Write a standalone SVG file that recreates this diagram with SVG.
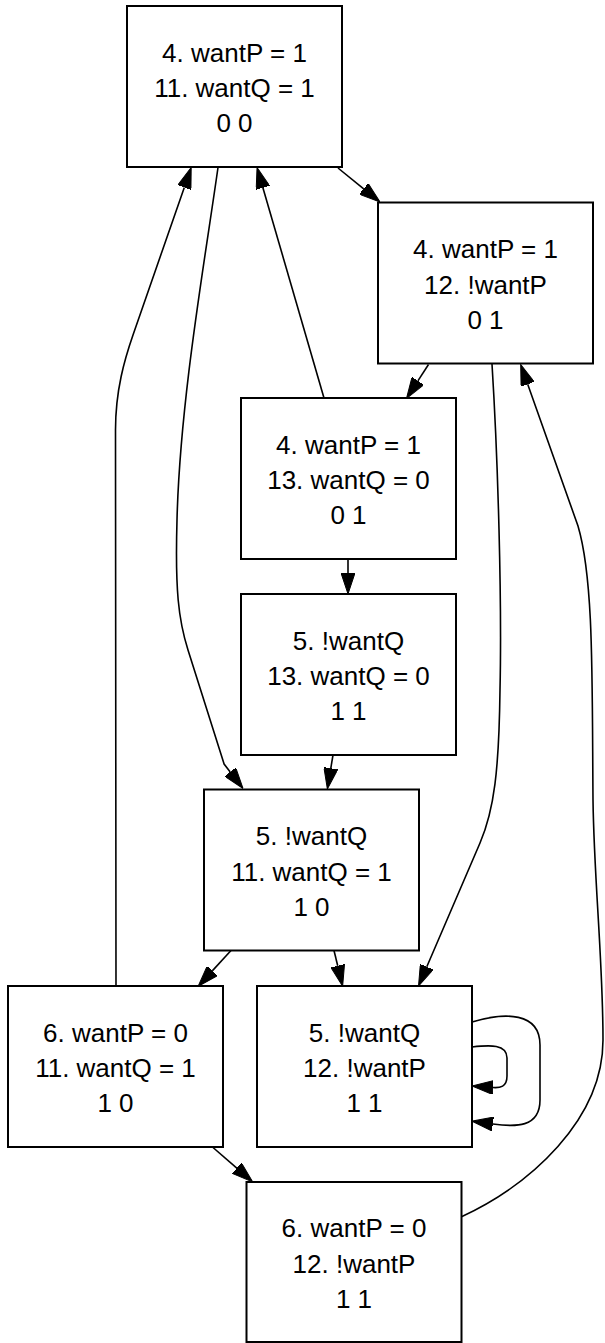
<svg xmlns="http://www.w3.org/2000/svg" width="605" height="1343" viewBox="0 0 605 1343">
<style>
.node rect{fill:#fff;stroke:#000;stroke-width:2}
.node text{font-family:"Liberation Sans",Arial,sans-serif;font-size:26px;text-anchor:middle;fill:#000}
.edge{fill:none;stroke:#000;stroke-width:1.6;marker-end:url(#ah)}
</style>
<defs>
<marker id="ah" viewBox="0 -7 21 14" refX="0" refY="0" markerWidth="21" markerHeight="14" markerUnits="userSpaceOnUse" orient="auto">
<path d="M0,-7 L21,0 L0,7 z" fill="#000" stroke="#000" stroke-width="1"/>
</marker>
</defs>
<rect width="605" height="1343" fill="#fff"/>
<g id="edges">
<path class="edge" d="M338,168 L363.7,188.8"/>
<path class="edge" d="M428.5,364.5 L417.9,380.9"/>
<path class="edge" d="M324,398 L262.9,187.7"/>
<path class="edge" d="M218,167.5 C205,260 180,400 177,520 C175,590 178.5,620 188,650 L224.1,764 L230.2,771.9"/>
<path class="edge" d="M333,755 L330.8,768.3"/>
<path class="edge" d="M348,559 L348,573"/>
<path class="edge" d="M231,950.5 L212.3,970.9"/>
<path class="edge" d="M334,950.5 L337.7,965.8"/>
<path class="edge" d="M492,364 C498,460 502,600 500,690 C499,770 494.2,810 480,843 L426.8,966.8"/>
<path class="edge" d="M116,986 L115.5,430 C115.5,390 124.7,359 133,335 L184.3,187.4"/>
<path class="edge" d="M213,1147.5 L236.8,1168.1"/>
<path class="edge" d="M461,1217 C530,1185 603,1120 603,1040 C603,960 594,880 593,800 C592,680 594,580 578,526 L527.7,384.2"/>
<path class="edge" d="M472,1022 C505,1012 540,1012 540,1045 L540,1100 C540,1128 515,1127 492.8,1124"/>
<path class="edge" d="M472,1047 C490,1045 507,1044 507,1058 L507,1076 C507,1087 500,1088 493,1087.5"/>
</g>
<g id="n1" class="node"><rect x="127" y="6" width="215" height="161"/><text x="234.5" y="61.5">4. wantP = 1</text><text x="234.5" y="97">11. wantQ = 1</text><text x="234.5" y="132">0 0</text></g>
<g id="n2" class="node"><rect x="378" y="202.5" width="215" height="161"/><text x="485.5" y="258">4. wantP = 1</text><text x="485.5" y="293.5">12. !wantP</text><text x="485.5" y="328.5">0 1</text></g>
<g id="n3" class="node"><rect x="241" y="398" width="215" height="161"/><text x="348.5" y="453.5">4. wantP = 1</text><text x="348.5" y="489">13. wantQ = 0</text><text x="348.5" y="524">0 1</text></g>
<g id="n4" class="node"><rect x="241" y="594" width="215" height="161"/><text x="348.5" y="649.5">5. !wantQ</text><text x="348.5" y="685">13. wantQ = 0</text><text x="348.5" y="720">1 1</text></g>
<g id="n5" class="node"><rect x="204" y="789.5" width="215" height="161"/><text x="311.5" y="845">5. !wantQ</text><text x="311.5" y="880.5">11. wantQ = 1</text><text x="311.5" y="915.5">1 0</text></g>
<g id="n6" class="node"><rect x="8" y="986" width="215" height="161"/><text x="115.5" y="1041.5">6. wantP = 0</text><text x="115.5" y="1077">11. wantQ = 1</text><text x="115.5" y="1112">1 0</text></g>
<g id="n7" class="node"><rect x="257" y="986" width="215" height="161"/><text x="364.5" y="1041.5">5. !wantQ</text><text x="364.5" y="1077">12. !wantP</text><text x="364.5" y="1112">1 1</text></g>
<g id="n8" class="node"><rect x="246.5" y="1182" width="215" height="160"/><text x="354" y="1237">6. wantP = 0</text><text x="354" y="1272.5">12. !wantP</text><text x="354" y="1307.5">1 1</text></g>
</svg>
